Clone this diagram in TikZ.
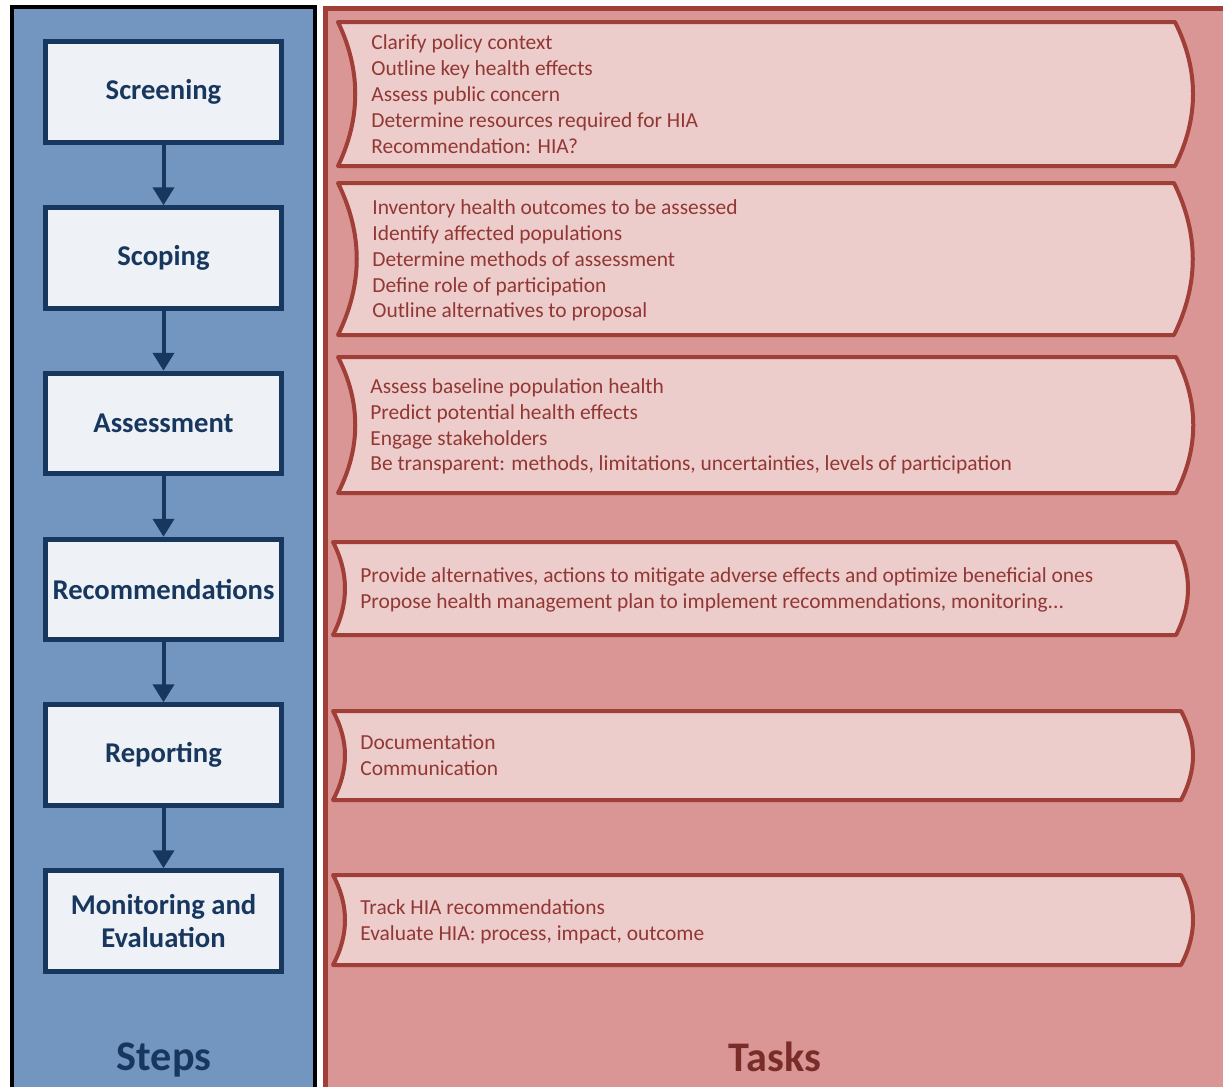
\documentclass[tikz,border=0pt]{standalone}
\usepackage{fontspec}
\setmainfont{Carlito}
\usetikzlibrary{arrows.meta}
\definecolor{stepspanel}{RGB}{115,150,192}
\definecolor{stepsnavy}{RGB}{23,55,94}
\definecolor{stepsfill}{RGB}{238,241,246}
\definecolor{taskspanel}{RGB}{217,150,148}
\definecolor{tasksborder}{RGB}{160,62,56}
\definecolor{tasksfill}{RGB}{236,205,203}
\definecolor{taskstext}{RGB}{146,55,52}
\definecolor{taskstitle}{RGB}{122,44,40}
\tikzstyle{stepbox} = [draw=stepsnavy, fill=stepsfill, line width=0.1cm,
    minimum width=4.72cm, minimum height=2.01cm, align=center,
    text=stepsnavy, font=\fontsize{16.3}{19.4}\selectfont\bfseries]
\tikzstyle{steparrow} = [draw=stepsnavy, line width=0.08cm,
    -{Triangle[width=0.42cm, length=0.36cm]}]
\tikzstyle{taskshape} = [draw=tasksborder, fill=tasksfill, line width=0.08cm,
    line join=round]
\tikzstyle{tasktext} = [anchor=west, align=left, inner sep=0pt, text=taskstext,
    font=\fontsize{12.2}{14.7}\selectfont]

\begin{document}
\begin{tikzpicture}[x=0.02cm, y=-0.02cm]
            \useasboundingbox (0,0) rectangle (1223,1086);
            \clip (0,0) rectangle (1223,1086);
            \fill[white] (0,0) rectangle (1223,1086);

            % panels
            \draw[fill=stepspanel, line width=0.08cm] (12,7) rectangle (315,1110);
            \draw[fill=taskspanel, draw=tasksborder, line width=0.1cm]
                (325.5,8) rectangle (1250,1110);

            % steps
            \node[stepbox] (scr) at (163.5,92) {Screening};
            \node[stepbox] (scp) at (163.5,258) {Scoping};
            \node[stepbox] (asm) at (163.5,423.5) {Assessment};
            \node[stepbox] (rec) at (163.5,589.5) {Recommendations};
            \node[stepbox] (rep) at (163.5,755) {Reporting};
            \node[stepbox] (mon) at (163.5,921) {Monitoring and\\[-0.5pt]Evaluation};

            \draw[steparrow] (scr) -- (scp);
            \draw[steparrow] (scp) -- (asm);
            \draw[steparrow] (asm) -- (rec);
            \draw[steparrow] (rec) -- (rep);
            \draw[steparrow] (rep) -- (mon);

            % tasks
            \draw[taskshape] (338,22) -- (1175,22)
                .. controls (1199,70) and (1199,118) .. (1175,166) -- (338,166)
                .. controls (361,118) and (361,70) .. (338,22) -- cycle;
            \node[tasktext] (t1) at (371,94) {Clarify policy context\\
                Outline key health effects\\Assess public concern\\
                Determine resources required for HIA\\Recommendation: HIA?};

            \draw[taskshape] (338,183) -- (1174,183)
                .. controls (1199,234) and (1199,284) .. (1174,335) -- (338,335)
                .. controls (363,284) and (363,234) .. (338,183) -- cycle;
            \node[tasktext] (t2) at (372,260.5) {Inventory health outcomes to be assessed\\
                Identify affected populations\\Determine methods of assessment\\
                Define role of participation\\Outline alternatives to proposal};

            \draw[taskshape] (338,357) -- (1176,357)
                .. controls (1199,402) and (1199,448) .. (1176,493) -- (338,493)
                .. controls (361,448) and (361,402) .. (338,357) -- cycle;
            \node[tasktext] (t3) at (370,426.5) {Assess baseline population health\\
                Predict potential health effects\\Engage stakeholders\\
                Be transparent: methods, limitations, uncertainties, levels of participation};

            \draw[taskshape] (333,542) -- (1176,542)
                .. controls (1192,573) and (1192,604) .. (1176,635) -- (333,635)
                .. controls (349,604) and (349,573) .. (333,542) -- cycle;
            \node[tasktext] (t4) at (360,590) {Provide alternatives, actions to mitigate adverse effects and optimize beneficial ones\\
                Propose health management plan to implement recommendations, monitoring...};

            \draw[taskshape] (333,711) -- (1181,711)
                .. controls (1197,741) and (1197,770) .. (1181,800) -- (333,800)
                .. controls (349,770) and (349,741) .. (333,711) -- cycle;
            \node[tasktext] (t5) at (360,755.5) {Documentation\\Communication};

            \draw[taskshape] (333,875) -- (1181,875)
                .. controls (1197,905) and (1197,935) .. (1181,965) -- (333,965)
                .. controls (349,935) and (349,905) .. (333,875) -- cycle;
            \node[tasktext] (t6) at (360,922) {Track HIA recommendations\\
                Evaluate HIA: process, impact, outcome};

            % titles
            \node[text=stepsnavy, font=\fontsize{24}{28}\selectfont\bfseries]
                (steps) at (164,1060) {Steps};
            \node[text=taskstitle, font=\fontsize{24}{28}\selectfont\bfseries]
                (tasks) at (775,1057) {Tasks};
        \end{tikzpicture}
\end{document}
